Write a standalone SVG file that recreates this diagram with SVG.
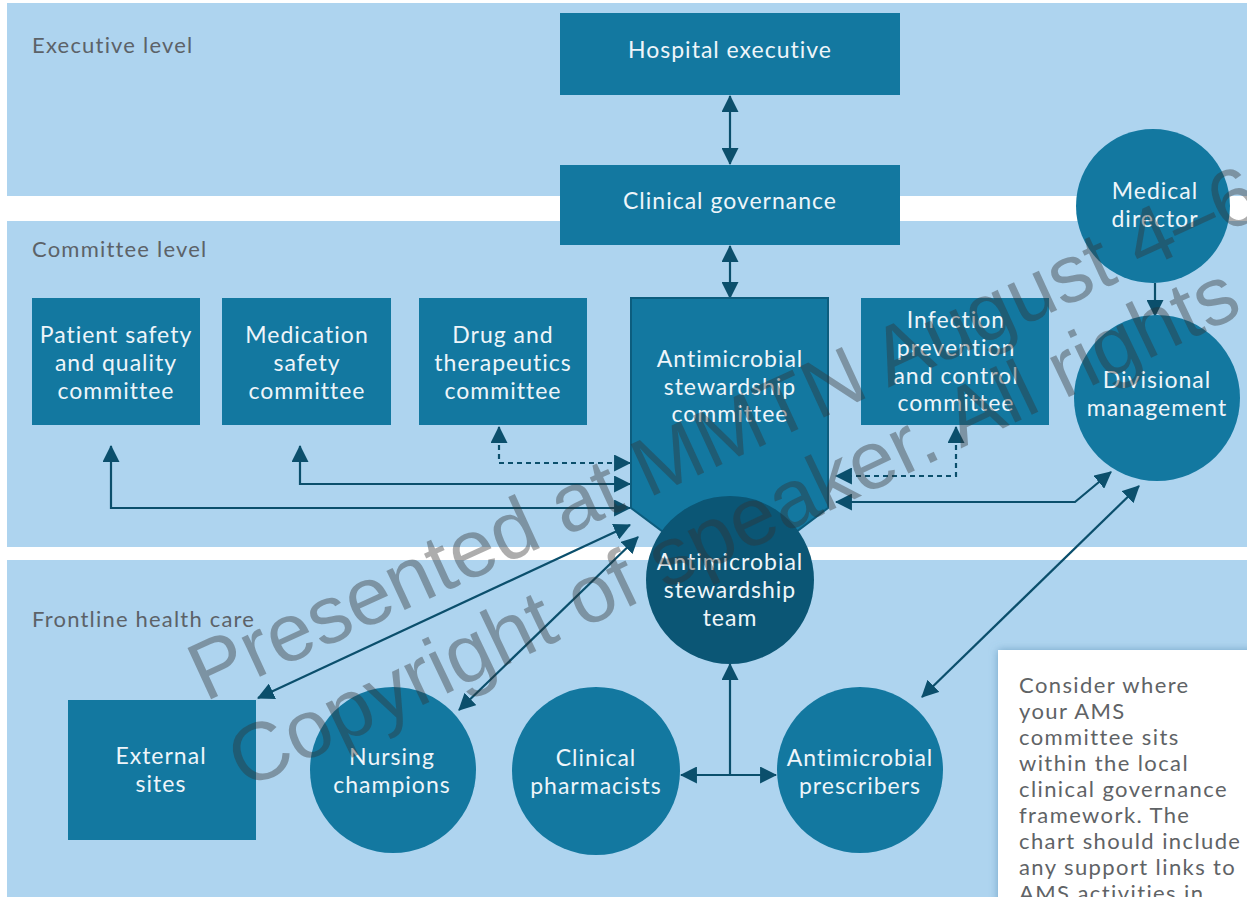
<svg xmlns="http://www.w3.org/2000/svg" width="1247" height="897" viewBox="0 0 1247 897">
<style>
.band{fill:#aed4ef}
.lvl{font-family:Lato,"Open Sans",sans-serif;font-size:22px;letter-spacing:1.2px;fill:#5c6268}
.box{fill:#1378a0}
.dark{fill:#0b5675}
.t{font-family:Lato,"Open Sans",sans-serif;font-size:23px;letter-spacing:1px;fill:#eef5fa;text-anchor:middle}
.c{fill:none;stroke:#0b4f6c;stroke-width:2.2}
.d{fill:none;stroke:#0b4f6c;stroke-width:2.2;stroke-dasharray:5 4}
.note{font-family:Lato,"Open Sans",sans-serif;font-size:22px;letter-spacing:1.4px;fill:#5f6366}
.wm{font-family:"Liberation Sans",Arial,sans-serif;font-size:82px;fill:#333;fill-opacity:0.4}
</style>
<defs>
<marker id="ah" viewBox="0 0 16 16" refX="15" refY="8" markerWidth="17" markerHeight="17" markerUnits="userSpaceOnUse" orient="auto-start-reverse">
<path d="M0,0 L16,8 L0,16 Z" fill="#0b4f6c"/>
</marker>
<filter id="sh" x="-20%" y="-20%" width="140%" height="140%">
<feDropShadow dx="0" dy="0" stdDeviation="4" flood-color="#5a8fb5" flood-opacity="0.7"/>
</filter>
</defs>
<rect width="1247" height="897" fill="#ffffff"/>
<g id="bands">
<rect class="band" x="7" y="3" width="1240" height="193"/>
<rect class="band" x="7" y="221" width="1240" height="326"/>
<rect class="band" x="7" y="560" width="1240" height="337"/>
<text class="lvl" x="32" y="53">Executive level</text>
<text class="lvl" x="32" y="257">Committee level</text>
<text class="lvl" x="32" y="627">Frontline health care</text>
</g>
<g id="connectors">
<line class="c" x1="730" y1="96" x2="730" y2="164" marker-start="url(#ah)" marker-end="url(#ah)"/>
<line class="c" x1="730" y1="246" x2="730" y2="298" marker-start="url(#ah)" marker-end="url(#ah)"/>
<line class="c" x1="1155" y1="283" x2="1155" y2="316" marker-end="url(#ah)"/>
<path class="c" d="M111,446 V508 H630" marker-start="url(#ah)" marker-end="url(#ah)"/>
<path class="c" d="M300,446 V484 H630" marker-start="url(#ah)" marker-end="url(#ah)"/>
<path class="d" d="M499,427 V463 H630" marker-start="url(#ah)" marker-end="url(#ah)"/>
<path class="d" d="M956,427 V476 H836" marker-start="url(#ah)" marker-end="url(#ah)"/>
<path class="c" d="M836,502 H1075 L1111,472" marker-start="url(#ah)" marker-end="url(#ah)"/>
<line class="c" x1="258" y1="698" x2="630" y2="525" marker-start="url(#ah)" marker-end="url(#ah)"/>
<line class="c" x1="459" y1="710" x2="638" y2="537" marker-start="url(#ah)" marker-end="url(#ah)"/>
<line class="c" x1="922" y1="697" x2="1139" y2="486" marker-start="url(#ah)" marker-end="url(#ah)"/>
<line class="c" x1="681" y1="775" x2="776" y2="775" marker-start="url(#ah)" marker-end="url(#ah)"/>
<line class="c" x1="730" y1="775" x2="730" y2="664" marker-end="url(#ah)"/>
</g>
<g id="hospital-executive">
<rect class="box" x="560" y="13" width="340" height="82"/>
<text class="t" x="730" y="58">Hospital executive</text>
</g>
<g id="clinical-governance">
<rect class="box" x="560" y="165" width="340" height="80"/>
<text class="t" x="730" y="209">Clinical governance</text>
</g>
<g id="medical-director">
<circle class="box" cx="1153" cy="206" r="77"/>
<text class="t" x="1155" y="199">Medical</text>
<text class="t" x="1155" y="227">director</text>
</g>
<g id="divisional-management">
<circle class="box" cx="1157" cy="398" r="83"/>
<text class="t" x="1157" y="388">Divisional</text>
<text class="t" x="1157" y="416">management</text>
</g>
<g id="patient-safety">
<rect class="box" x="32" y="298" width="168" height="127"/>
<text class="t" x="116" y="343">Patient safety</text>
<text class="t" x="116" y="371">and quality</text>
<text class="t" x="116" y="399">committee</text>
</g>
<g id="medication-safety">
<rect class="box" x="222" y="298" width="169" height="127"/>
<text class="t" x="307" y="343">Medication</text>
<text class="t" x="307" y="371">safety</text>
<text class="t" x="307" y="399">committee</text>
</g>
<g id="drug-therapeutics">
<rect class="box" x="419" y="298" width="168" height="127"/>
<text class="t" x="503" y="343">Drug and</text>
<text class="t" x="503" y="371">therapeutics</text>
<text class="t" x="503" y="399">committee</text>
</g>
<g id="ams-committee">
<path d="M631,298 H828 V508 L730,582 L631,508 Z" fill="#1378a0" stroke="#0c5d7e" stroke-width="2"/>
<text class="t" x="730" y="367">Antimicrobial</text>
<text class="t" x="730" y="395">stewardship</text>
<text class="t" x="730" y="422">committee</text>
</g>
<g id="infection-prevention">
<rect class="box" x="861" y="298" width="188" height="127"/>
<text class="t" x="956" y="328">Infection</text>
<text class="t" x="956" y="356">prevention</text>
<text class="t" x="956" y="384">and control</text>
<text class="t" x="956" y="411">committee</text>
</g>
<g id="ams-team">
<circle class="dark" cx="730" cy="580" r="84"/>
<text class="t" x="730" y="570">Antimicrobial</text>
<text class="t" x="730" y="598">stewardship</text>
<text class="t" x="730" y="626">team</text>
</g>
<g id="external-sites">
<rect class="box" x="68" y="700" width="188" height="140"/>
<text class="t" x="161" y="764">External</text>
<text class="t" x="161" y="792">sites</text>
</g>
<g id="nursing-champions">
<circle class="box" cx="393" cy="770" r="83"/>
<text class="t" x="392" y="765">Nursing</text>
<text class="t" x="392" y="793">champions</text>
</g>
<g id="clinical-pharmacists">
<circle class="box" cx="596" cy="771" r="84"/>
<text class="t" x="596" y="766">Clinical</text>
<text class="t" x="596" y="794">pharmacists</text>
</g>
<g id="antimicrobial-prescribers">
<circle class="box" cx="860" cy="770" r="83"/>
<text class="t" x="860" y="766">Antimicrobial</text>
<text class="t" x="860" y="794">prescribers</text>
</g>
<g id="note">
<rect x="998" y="650" width="260" height="260" fill="#ffffff" filter="url(#sh)"/>
<text class="note" x="1019" y="693">Consider where</text>
<text class="note" x="1019" y="719">your AMS</text>
<text class="note" x="1019" y="745">committee sits</text>
<text class="note" x="1019" y="771">within the local</text>
<text class="note" x="1019" y="797">clinical governance</text>
<text class="note" x="1019" y="823">framework. The</text>
<text class="note" x="1019" y="849">chart should include</text>
<text class="note" x="1019" y="875">any support links to</text>
<text class="note" x="1019" y="901">AMS activities in</text>
</g>
<g id="watermark">
<text class="wm" transform="translate(205,702) rotate(-24.7)">Presented at MMTN August 4–6</text>
<text class="wm" font-size="86" transform="translate(245,790) rotate(-25.5)">Copyright of speaker. All rights</text>
</g>
</svg>
